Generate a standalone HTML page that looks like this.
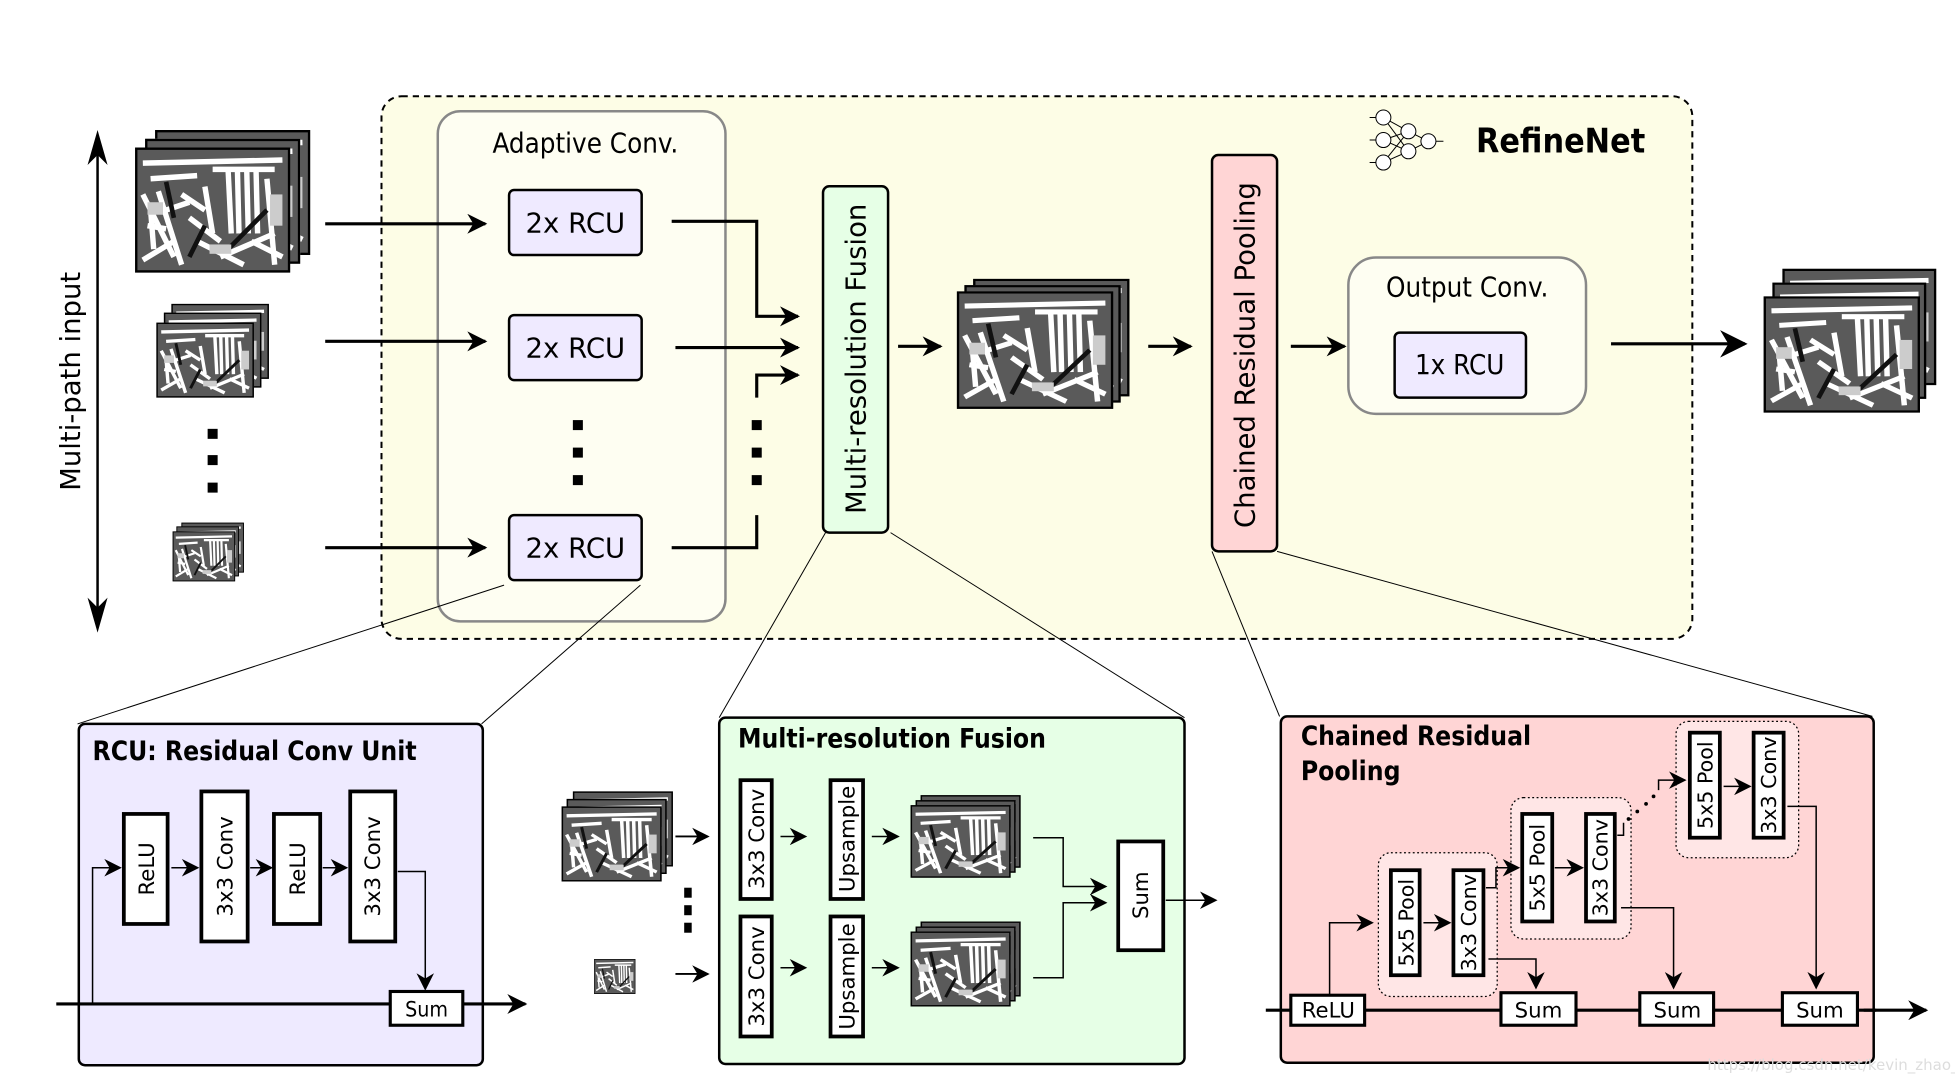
<!DOCTYPE html>
<html><head><meta charset="utf-8"><style>
html,body{margin:0;padding:0;background:#fff;}
svg{display:block;}
text{font-family:"DejaVu Sans","Liberation Sans",sans-serif;fill:#000;}
.c{font-family:"DejaVu Sans Condensed","DejaVu Sans","Liberation Sans",sans-serif;}
.b{font-family:"DejaVu Sans Condensed","DejaVu Sans","Liberation Sans",sans-serif;font-weight:bold;}
</style></head><body>
<svg width="1955" height="1079" viewBox="0 0 1563 863" preserveAspectRatio="none" xmlns="http://www.w3.org/2000/svg">
<defs>
<marker id="ah" viewBox="0 0 10 10" refX="9" refY="5" markerWidth="10" markerHeight="10" markerUnits="userSpaceOnUse" orient="auto"><path d="M0,0 L10,5 L0,10 L3,5 z" fill="#000"/></marker>
<marker id="ahb" viewBox="0 0 10 10" refX="9" refY="5" markerWidth="32" markerHeight="22" markerUnits="userSpaceOnUse" orient="auto"><path d="M0,0 L10,5 L0,10 L3,5 z" fill="#000"/></marker>
<marker id="ahm" viewBox="0 0 10 10" refX="9" refY="5" markerWidth="22" markerHeight="16" markerUnits="userSpaceOnUse" orient="auto"><path d="M0,0 L10,5 L0,10 L3,5 z" fill="#000"/></marker>
<marker id="ahs" viewBox="0 0 10 10" refX="9" refY="5" markerWidth="16" markerHeight="14" markerUnits="userSpaceOnUse" orient="auto"><path d="M0,0 L10,5 L0,10 L3,5 z" fill="#000"/></marker>
<marker id="ahv" viewBox="0 0 10 10" refX="9" refY="5" markerWidth="26" markerHeight="14" markerUnits="userSpaceOnUse" orient="auto"><path d="M0,0 L10,5 L0,10 L3,5 z" fill="#000"/></marker>
<symbol id="pic" viewBox="0 0 100 80" preserveAspectRatio="none">
<rect x="0" y="0" width="100" height="80" fill="#5a5a5a"/>
<g stroke="#fff" stroke-width="3.5" fill="none">
<path d="M5,10 L95,8 M10,20 L40,18 M60,15 L62,55 M66,15 L67,55 M72,15 L73,55 M78,15 L79,55 M50,14 L90,14"/>
<path d="M5,30 L25,70 M15,28 L30,75 M35,45 L55,60 M40,60 L70,75 M75,60 L95,70 M8,50 L20,52"/>
<path d="M30,30 L45,40 M20,40 L35,35 M55,70 L90,55 M5,72 L25,60 M85,20 L90,75 M45,25 L50,55 M10,40 L12,65"/>
</g>
<g stroke="#111" stroke-width="3" fill="none"><path d="M20,22 L25,45 M85,40 L60,65 M35,70 L45,50"/></g>
<g fill="#ccc"><rect x="8" y="35" width="10" height="8"/><rect x="48" y="62" width="14" height="6"/><rect x="87" y="30" width="8" height="20"/></g>
<rect x="0.5" y="0.5" width="99" height="79" fill="none" stroke="#000" stroke-width="2"/>
</symbol>
</defs>

<rect x="305" y="77" width="1048" height="434" rx="16" fill="#fdfde6" stroke="#000" stroke-width="1.6" stroke-dasharray="5,4"/>

<line x1="78" y1="112" x2="78" y2="498" stroke="#000" stroke-width="2"/>
<path d="M78,104 L70,132 L78,124 L86,132 z" fill="#000"/>
<path d="M78,506 L70,478 L78,486 L86,478 z" fill="#000"/>
<text x="0" y="0" transform="translate(64,305) rotate(-90)" text-anchor="middle" font-size="22">Multi-path input</text>

<rect x="124" y="104" width="124" height="100" fill="#fff"/><use href="#pic" x="124" y="104" width="124" height="100"/>
<rect x="116" y="111" width="124" height="100" fill="#fff"/><use href="#pic" x="116" y="111" width="124" height="100"/>
<use href="#pic" x="108" y="118" width="124" height="100"/>
<use href="#pic" x="137" y="243" width="78" height="60"/>
<use href="#pic" x="131" y="250" width="78" height="60"/>
<use href="#pic" x="125" y="258" width="78" height="60"/>
<rect x="166" y="343" width="8" height="8"/><rect x="166" y="364" width="8" height="8"/><rect x="166" y="386" width="8" height="8"/>
<use href="#pic" x="145" y="418" width="50" height="40"/>
<use href="#pic" x="141" y="421" width="50" height="40"/>
<use href="#pic" x="138" y="425" width="50" height="40"/>

<rect x="350" y="89" width="230" height="408" rx="18" fill="#fefef2" stroke="#888" stroke-width="2"/>
<text x="468" y="122" text-anchor="middle" font-size="22" class="c">Adaptive Conv.</text>
<g fill="#efeaff" stroke="#000" stroke-width="2">
<rect x="407" y="152" width="106" height="52" rx="4"/>
<rect x="407" y="252" width="106" height="52" rx="4"/>
<rect x="407" y="412" width="106" height="52" rx="4"/>
</g>
<g font-size="22" text-anchor="middle" class="c">
<text x="460" y="186">2x RCU</text><text x="460" y="286">2x RCU</text><text x="460" y="446">2x RCU</text>
</g>
<g stroke="#000" stroke-width="2.5" fill="none">
<line x1="260" y1="179" x2="388" y2="179" marker-end="url(#ahm)"/>
<line x1="260" y1="273" x2="388" y2="273" marker-end="url(#ahm)"/>
<line x1="260" y1="438" x2="388" y2="438" marker-end="url(#ahm)"/>
<path d="M537,177 L605,177 L605,253 L638,253" marker-end="url(#ahm)"/>
<line x1="540" y1="278" x2="638" y2="278" marker-end="url(#ahm)"/>
<path d="M605,318 L605,300 L638,300" marker-end="url(#ahm)"/>
<path d="M537,438 L605,438 L605,412"/>
</g>
<rect x="458" y="336" width="8" height="8"/><rect x="458" y="358" width="8" height="8"/><rect x="458" y="380" width="8" height="8"/>
<rect x="601" y="336" width="8" height="8"/><rect x="601" y="358" width="8" height="8"/><rect x="601" y="380" width="8" height="8"/>

<rect x="658" y="149" width="52" height="277" rx="5" fill="#e6ffe6" stroke="#000" stroke-width="2"/>
<text transform="translate(692,287) rotate(-90)" text-anchor="middle" font-size="22">Multi-resolution Fusion</text>
<line x1="718" y1="277" x2="752" y2="277" stroke="#000" stroke-width="2.5" marker-end="url(#ahm)"/>
<use href="#pic" x="778" y="223" width="125" height="94"/>
<use href="#pic" x="771" y="228" width="125" height="94"/>
<use href="#pic" x="765" y="233" width="125" height="94"/>
<line x1="918" y1="277" x2="952" y2="277" stroke="#000" stroke-width="2.5" marker-end="url(#ahm)"/>

<rect x="969" y="124" width="52" height="317" rx="5" fill="#ffd5d5" stroke="#000" stroke-width="2"/>
<text transform="translate(1003,284) rotate(-90)" text-anchor="middle" font-size="22">Chained Residual Pooling</text>
<line x1="1032" y1="277" x2="1075" y2="277" stroke="#000" stroke-width="2.5" marker-end="url(#ahm)"/>

<rect x="1078" y="206" width="190" height="125" rx="22" fill="#fefef2" stroke="#888" stroke-width="2"/>
<text x="1173" y="237" text-anchor="middle" font-size="22" class="c">Output Conv.</text>
<rect x="1115" y="266" width="105" height="52" rx="4" fill="#efeaff" stroke="#000" stroke-width="2"/>
<text x="1167" y="299" text-anchor="middle" font-size="22" class="c">1x RCU</text>
<line x1="1288" y1="275" x2="1395" y2="275" stroke="#000" stroke-width="2.5" marker-end="url(#ahb)"/>
<use href="#pic" x="1425" y="215" width="123" height="93"/>
<use href="#pic" x="1417" y="226" width="123" height="93"/>
<use href="#pic" x="1410" y="237" width="125" height="93"/>

<g stroke="#000" stroke-width="0.8" fill="#fff">
<path d="M1106,94 L1126,105 M1106,94 L1126,121 M1106,112 L1126,105 M1106,112 L1126,121 M1106,130 L1126,105 M1106,130 L1126,121 M1126,105 L1142,113 M1126,121 L1142,113 M1095,94 L1100,94 M1095,112 L1100,112 M1095,130 L1100,130 M1148,113 L1154,113" fill="none"/>
<circle cx="1106" cy="94" r="6"/><circle cx="1106" cy="112" r="6"/><circle cx="1106" cy="130" r="6"/>
<circle cx="1126" cy="105" r="6"/><circle cx="1126" cy="121" r="6"/><circle cx="1142" cy="113" r="6"/>
</g>
<text x="1180" y="122" font-size="27" class="b">RefineNet</text>

<g stroke="#000" stroke-width="0.8">
<line x1="403" y1="468" x2="62" y2="579"/>
<line x1="512" y1="468" x2="385" y2="579"/>
<line x1="660" y1="426" x2="575" y2="574"/>
<line x1="712" y1="426" x2="947" y2="574"/>
<line x1="969" y1="441" x2="1023" y2="573"/>
<line x1="1021" y1="441" x2="1497" y2="573"/>
</g>

<rect x="63" y="579" width="323" height="273" rx="5" fill="#eeeaff" stroke="#000" stroke-width="2"/>
<text x="74" y="608" font-size="21" class="b">RCU: Residual Conv Unit</text>
<g fill="#fff" stroke="#000" stroke-width="3">
<rect x="99" y="651" width="35" height="88"/><rect x="161" y="633" width="37" height="120"/>
<rect x="219" y="651" width="37" height="88"/><rect x="280" y="633" width="36" height="120"/>
</g>
<g font-size="17" text-anchor="middle">
<text transform="translate(123,695) rotate(-90)">ReLU</text>
<text transform="translate(186,693) rotate(-90)">3x3 Conv</text>
<text transform="translate(244,695) rotate(-90)">ReLU</text>
<text transform="translate(304,693) rotate(-90)">3x3 Conv</text>
</g>
<g stroke="#000" stroke-width="1.2" fill="none">
<path d="M74,803 L74,694 L96,694" marker-end="url(#ahs)"/>
<line x1="137" y1="694" x2="158" y2="694" marker-end="url(#ahs)"/>
<line x1="200" y1="694" x2="217" y2="694" marker-end="url(#ahs)"/>
<line x1="258" y1="694" x2="277" y2="694" marker-end="url(#ahs)"/>
<path d="M318,697 L340,697 L340,791" marker-end="url(#ahs)"/>
</g>
<line x1="45" y1="803" x2="312" y2="803" stroke="#000" stroke-width="2.5"/>
<line x1="370" y1="803" x2="420" y2="803" stroke="#000" stroke-width="2.5" marker-end="url(#ahm)"/>
<rect x="312" y="793" width="58" height="27" fill="#fff" stroke="#000" stroke-width="2.5"/>
<text x="341" y="813" text-anchor="middle" font-size="17" class="c">Sum</text>

<use href="#pic" x="458" y="633" width="80" height="60"/>
<use href="#pic" x="453" y="639" width="80" height="60"/>
<use href="#pic" x="449" y="645" width="80" height="60"/>
<use href="#pic" x="475" y="767" width="33" height="28"/>
<rect x="547" y="710" width="6" height="8"/><rect x="547" y="724" width="6" height="8"/><rect x="547" y="738" width="6" height="8"/>
<line x1="540" y1="669" x2="566" y2="669" stroke="#000" stroke-width="1.5" marker-end="url(#ahs)"/>
<line x1="540" y1="779" x2="566" y2="779" stroke="#000" stroke-width="1.5" marker-end="url(#ahs)"/>

<rect x="575" y="574" width="372" height="277" rx="5" fill="#e6ffe6" stroke="#000" stroke-width="2"/>
<text x="590" y="598" font-size="21" class="b">Multi-resolution Fusion</text>
<g fill="#fff" stroke="#000" stroke-width="3">
<rect x="592" y="624" width="25" height="95"/><rect x="592" y="733" width="25" height="96"/>
<rect x="664" y="624" width="26" height="95"/><rect x="664" y="733" width="26" height="96"/>
<rect x="894" y="673" width="36" height="87"/>
</g>
<g font-size="17" text-anchor="middle">
<text transform="translate(611,671) rotate(-90)">3x3 Conv</text>
<text transform="translate(611,781) rotate(-90)">3x3 Conv</text>
<text transform="translate(683,671) rotate(-90)">Upsample</text>
<text transform="translate(683,781) rotate(-90)">Upsample</text>
<text transform="translate(918,716) rotate(-90)">Sum</text>
</g>
<use href="#pic" x="736" y="636" width="80" height="58"/>
<use href="#pic" x="732" y="640" width="80" height="58"/>
<use href="#pic" x="728" y="644" width="80" height="58"/>
<use href="#pic" x="736" y="737" width="80" height="60"/>
<use href="#pic" x="732" y="741" width="80" height="60"/>
<use href="#pic" x="728" y="745" width="80" height="60"/>
<g stroke="#000" stroke-width="1.2" fill="none">
<line x1="624" y1="669" x2="644" y2="669" marker-end="url(#ahs)"/>
<line x1="624" y1="774" x2="644" y2="774" marker-end="url(#ahs)"/>
<line x1="697" y1="669" x2="718" y2="669" marker-end="url(#ahs)"/>
<line x1="697" y1="774" x2="718" y2="774" marker-end="url(#ahs)"/>
<path d="M826,670 L850,670 L850,709 L884,709" marker-end="url(#ahs)"/>
<path d="M826,782 L850,782 L850,722 L884,722" marker-end="url(#ahs)"/>
<line x1="932" y1="720" x2="972" y2="720" marker-end="url(#ahs)"/>
</g>

<rect x="1024" y="573" width="474" height="277" rx="5" fill="#ffd5d5" stroke="#000" stroke-width="2"/>
<text x="1040" y="596" font-size="21" class="b">Chained Residual</text>
<text x="1040" y="624" font-size="21" class="b">Pooling</text>
<g fill="#ffe6e6" stroke="#000" stroke-width="1" stroke-dasharray="1.5,2">
<rect x="1102" y="682" width="95" height="115" rx="10"/>
<rect x="1208" y="638" width="96" height="113" rx="10"/>
<rect x="1340" y="577" width="98" height="109" rx="10"/>
</g>
<g fill="#fff" stroke="#000" stroke-width="3">
<rect x="1112" y="696" width="23" height="84"/><rect x="1162" y="696" width="24" height="84"/>
<rect x="1217" y="651" width="24" height="86"/><rect x="1268" y="651" width="23" height="86"/>
<rect x="1351" y="586" width="24" height="84"/><rect x="1402" y="586" width="24" height="84"/>
</g>
<g font-size="16.5" text-anchor="middle">
<text transform="translate(1130,738) rotate(-90)">5x5 Pool</text>
<text transform="translate(1180,738) rotate(-90)">3x3 Conv</text>
<text transform="translate(1235,694) rotate(-90)">5x5 Pool</text>
<text transform="translate(1285,694) rotate(-90)">3x3 Conv</text>
<text transform="translate(1369,628) rotate(-90)">5x5 Pool</text>
<text transform="translate(1420,628) rotate(-90)">3x3 Conv</text>
</g>
<g stroke="#000" stroke-width="1.2" fill="none">
<path d="M1063,796 L1063,738 L1097,738" marker-end="url(#ahs)"/>
<line x1="1138" y1="738" x2="1159" y2="738" marker-end="url(#ahs)"/>
<path d="M1188,710 L1196,710 L1196,694 L1214,694" marker-end="url(#ahs)"/>
<path d="M1190,767 L1228,767 L1228,790" marker-end="url(#ahv)"/>
<line x1="1243" y1="694" x2="1265" y2="694" marker-end="url(#ahs)"/>
<path d="M1293,668 L1298,668 L1298,658"/>
<path d="M1326,632 L1326,624 L1347,624" marker-end="url(#ahs)"/>
<path d="M1296,726 L1338,726 L1338,790" marker-end="url(#ahv)"/>
<line x1="1378" y1="629" x2="1399" y2="629" marker-end="url(#ahs)"/>
<path d="M1429,645 L1452,645 L1452,790" marker-end="url(#ahv)"/>
</g>
<g fill="#000"><circle cx="1302" cy="655" r="1.5"/><circle cx="1309" cy="649" r="1.5"/><circle cx="1316" cy="643" r="1.5"/><circle cx="1322" cy="637" r="1.5"/></g>
<line x1="1012" y1="808" x2="1500" y2="808" stroke="#000" stroke-width="2.5"/>
<line x1="1490" y1="808" x2="1540" y2="808" stroke="#000" stroke-width="2.5" marker-end="url(#ahm)"/>
<g fill="#fff" stroke="#000" stroke-width="2.5">
<rect x="1032" y="796" width="59" height="24"/>
<rect x="1200" y="794" width="60" height="26"/><rect x="1311" y="794" width="59" height="26"/><rect x="1425" y="794" width="60" height="26"/>
</g>
<g font-size="17" text-anchor="middle" class="c">
<text x="1062" y="814">ReLU</text><text x="1230" y="814">Sum</text><text x="1341" y="814">Sum</text><text x="1455" y="814">Sum</text>
</g>
<text x="1365" y="856" font-size="12" style="fill:#ddd">https://blog.csdn.net/kevin_zhao_zl</text>
</svg>
</body></html>
